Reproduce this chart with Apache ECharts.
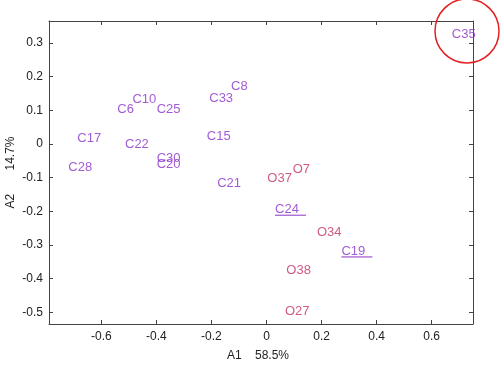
<!DOCTYPE html>
<html>
<head>
<meta charset="utf-8">
<script src="https://cdn.jsdelivr.net/npm/echarts@6/dist/echarts.min.js"></script>
<style>html,body{margin:0;padding:0;background:#fff;}#c{width:500px;height:365px;}</style>
</head>
<body>
<div id="c"></div>
<script>
// C-samples (purple)
const cNames = ['C35','C8','C33','C10','C6','C25','C17','C15','C22','C30','C20','C28','C21','C24','C19'];
const cX     = [0.673,-0.129,-0.208,-0.487,-0.542,-0.399,-0.687,-0.217,-0.514,-0.399,-0.399,-0.720,-0.179,0.031,0.272];
const cY     = [0.325,0.170,0.136,0.131,0.103,0.103,0.017,0.022,-0.001,-0.042,-0.060,-0.069,-0.116,-0.194,-0.318];
// O-samples (crimson)
const oNames = ['O7','O37','O34','O38','O27'];
const oX     = [0.095,0.003,0.183,0.072,0.067];
const oY     = [-0.075,-0.104,-0.262,-0.376,-0.499];
// underlined labels
const underlined = ['C24','C19'];
// ticks
const xTicks = [-0.6,-0.4,-0.2,0,0.2,0.4,0.6];
const yTicks = [-0.5,-0.4,-0.3,-0.2,-0.1,0,0.1,0.2,0.3];
const xName = 'A1    58.5%';
const yName = 'A2       14.7%';

const cData = cNames.map((n,i)=>({name:n, value:[cX[i], cY[i]]}));
const oData = oNames.map((n,i)=>({name:n, value:[oX[i], oY[i]]}));
const uData = cNames.map((n,i)=>({name:n, value:[cX[i], cY[i]]})).filter(d=>underlined.indexOf(d.name)>=0);

const axisColor = '#444';
const font = 'Liberation Sans, Arial, sans-serif';
const cColor = '#8a33c8';
const oColor = '#c33068';
function fmt(v){ return v===0 ? '0' : String(Math.round(v*10)/10); }

const chart = echarts.init(document.getElementById('c'), null, {renderer:'canvas'});
chart.setOption({
  animation:false,
  backgroundColor:'#fff',
  grid:{left:49, right:27, top:21, bottom:41, containLabel:false, outerBoundsMode:'none'},
  xAxis:[{
    type:'value', min:-0.79, max:0.75, position:'bottom',
    name:xName, nameLocation:'middle', nameGap:26, nameMoveOverlap:false,
    nameTextStyle:{color:'#222', fontSize:12, fontFamily:font, padding:[0,6,0,0]},
    axisLine:{show:true, onZero:false, lineStyle:{color:axisColor, width:1}},
    axisTick:{show:true, inside:true, length:4, customValues:xTicks, lineStyle:{color:axisColor}},
    axisLabel:{show:true, margin:7, customValues:xTicks, formatter:fmt, color:'#222', fontSize:12, fontFamily:font},
    splitLine:{show:false}
  },{
    type:'value', min:-0.79, max:0.75, position:'top',
    axisLine:{show:true, onZero:false, lineStyle:{color:axisColor, width:1}},
    axisTick:{show:true, inside:true, length:4, customValues:xTicks, lineStyle:{color:axisColor}},
    axisLabel:{show:false}, splitLine:{show:false}
  }],
  yAxis:[{
    type:'value', min:-0.535, max:0.365, position:'left',
    name:yName, nameLocation:'middle', nameGap:32, nameRotate:90, nameMoveOverlap:false,
    nameTextStyle:{color:'#222', fontSize:12, fontFamily:font},
    axisLine:{show:true, onZero:false, lineStyle:{color:axisColor, width:1}},
    axisTick:{show:true, inside:true, length:4, customValues:yTicks, lineStyle:{color:axisColor}},
    axisLabel:{show:true, margin:6, customValues:yTicks, formatter:fmt, color:'#222', fontSize:12, fontFamily:font},
    splitLine:{show:false}
  },{
    type:'value', min:-0.535, max:0.365, position:'right',
    axisLine:{show:true, onZero:false, lineStyle:{color:axisColor, width:1}},
    axisTick:{show:true, inside:true, length:4, customValues:yTicks, lineStyle:{color:axisColor}},
    axisLabel:{show:false}, splitLine:{show:false}
  }],
  series:[{
    type:'scatter', xAxisIndex:0, yAxisIndex:0, data:cData, symbolSize:0,
    label:{show:true, position:'right', distance:0, formatter:'{b}', color:cColor, fontSize:13, fontFamily:font},
    emphasis:{disabled:true}
  },{
    type:'scatter', xAxisIndex:0, yAxisIndex:0, data:oData, symbolSize:0,
    label:{show:true, position:'right', distance:0, formatter:'{b}', color:oColor, fontSize:13, fontFamily:font},
    emphasis:{disabled:true}
  },{
    type:'custom', xAxisIndex:0, yAxisIndex:0, data:uData,
    renderItem:function(params, api){
      const p = api.coord([api.value(0), api.value(1)]);
      return {type:'line', shape:{x1:p[0], y1:p[1]+6, x2:p[0]+31, y2:p[1]+6},
              style:{stroke:cColor, lineWidth:1}};
    },
    silent:true
  }],
  graphic:[{
    type:'circle', shape:{cx:467, cy:31, r:32},
    style:{fill:'none', stroke:'#e32020', lineWidth:1.5}, z:100
  }]
});
</script>
</body>
</html>
